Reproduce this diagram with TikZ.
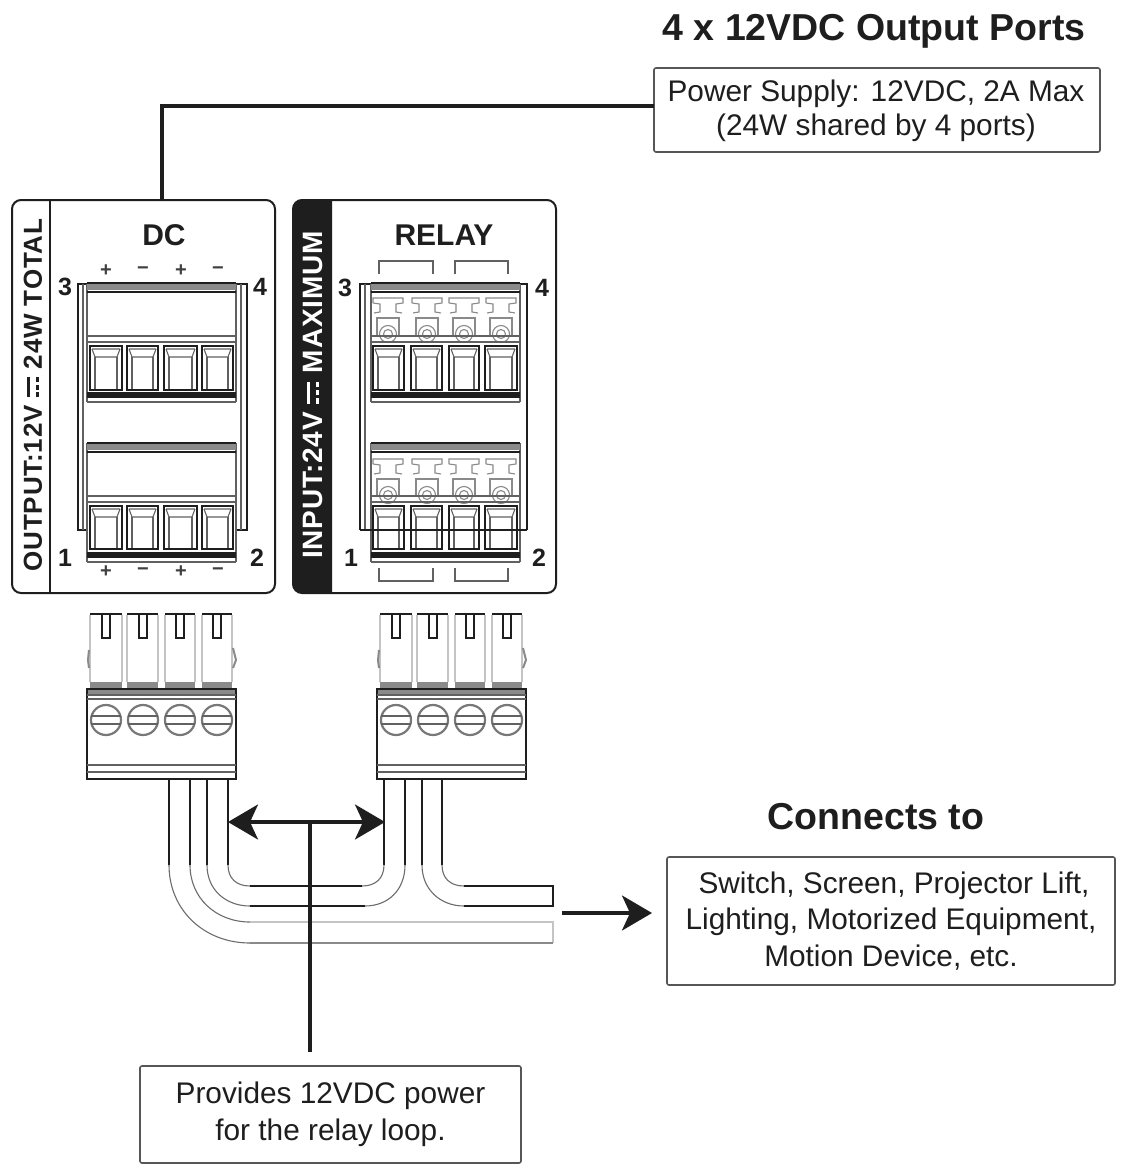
\documentclass[tikz,border=0pt]{standalone}
\usepackage{fontspec}
\setmainfont{Liberation Sans}
\usetikzlibrary{arrows.meta,calc}
\definecolor{ink}{HTML}{1E1E1E}
\definecolor{soft}{HTML}{8A8A8A}
\definecolor{pale}{HTML}{C4C4C4}
\tikzset{
  textbox/.style={draw=ink!75,line width=1.6pt,rounded corners=2pt,align=center,font=\fontsize{29.8}{36.5}\selectfont,inner sep=0pt,text=ink},
  heading/.style={font=\bfseries\fontsize{37.5}{42}\selectfont,text=ink,inner sep=0pt},
  panel/.style={draw=ink,line width=2pt,rounded corners=9pt},
  dk/.style={draw=ink,line width=1.7pt},
  md/.style={draw=ink!70,line width=1.1pt},
  lt/.style={draw=soft,line width=1.1pt},
  wire/.style={draw=ink,line width=1.7pt},
  wirecurve/.style={draw=ink!65,line width=1.1pt},
  wirepale/.style={draw=pale,line width=1.6pt},
  lead/.style={draw=ink,line width=3.4pt},
  bighead/.style={-{Stealth[length=30pt,width=35pt,inset=8pt]}},
  bothheads/.style={{Stealth[length=30pt,width=35pt,inset=8pt]}-{Stealth[length=30pt,width=35pt,inset=8pt]}},
  portnum/.style={font=\bfseries\fontsize{25}{28}\selectfont,text=ink,inner sep=0pt},
  paneltitle/.style={font=\bfseries\fontsize{30}{34}\selectfont,text=ink,inner sep=0pt},
  polarity/.style={font=\bfseries\fontsize{20}{24}\selectfont,text=ink!85,inner sep=0pt},
}
% direct-current sign: solid bar over a broken bar
\newcommand{\dcsign}{\mbox{\rlap{\rule[.45em]{.78em}{.11em}}\rule[.13em]{.2em}{.11em}\hspace{.09em}\rule[.13em]{.2em}{.11em}\hspace{.09em}\rule[.13em]{.2em}{.11em}}}
% one key cell: left, right, top, bottom
\newcommand{\keycell}[4]{%
  \draw[dk] (#1,#3) rectangle (#2,#4);
  \draw[md] (#1+2,#3+3) -- (#2-2,#3+3) (#1+2,#3+3) -- (#1+5,#3+11) -- (#2-5,#3+11) -- (#2-2,#3+3);
  \draw[md] (#1+5,#3+11) -- (#1+5,#4-1) (#2-5,#3+11) -- (#2-5,#4-1);
}
% one row of a terminal block: left, right, top of the band
\newcommand{\blockrow}[3]{%
  \draw[md] (#1,#3) -- (#2,#3) (#1,#3+6) -- (#2,#3+6);
  \fill[ink] (#1,#3+56) rectangle (#2,#3+62);
  \draw[md] (#1,#3+66) -- (#2,#3+66);
}
\newcommand{\topbars}[3]{%
  \draw[dk] (#1,#3) -- (#2,#3);
  \fill[soft] (#1,#3+1) rectangle (#2,#3+7);
  \draw[dk] (#1,#3+9) -- (#2,#3+9);
}
% gray latch of the relay block: centre x, top y
\newcommand{\latch}[2]{%
  \draw[lt] (#1-15,#2+5) -- (#1-15,#2) -- (#1+15,#2) -- (#1+15,#2+5) -- (#1+8,#2+6) -- (#1+8,#2+14) -- (#1+14,#2+15)
            (#1-15,#2+5) -- (#1-8,#2+6) -- (#1-8,#2+14) -- (#1-14,#2+15);
  \draw[lt] (#1-11,#2+37) -- (#1-11,#2+20) -- (#1+11,#2+20) -- (#1+11,#2+37);
  \draw[lt] (#1,#2+36) circle (8.5pt) (#1,#2+36) circle (4.5pt);
}
% plug: x shift
\newcommand{\plugshape}[1]{%
  \begin{scope}[xshift=#1pt]
    \foreach \a/\b/\c in {90/122/106,127/158/143,165/195/180,202/232/217}{
      \draw[draw=pale,line width=1.5pt] (\a,615) -- (\a,682) (\b,615) -- (\b,682);
      \draw[draw=ink,line width=2pt] (\a,614) -- (\b,614);
      \draw[draw=ink,line width=2pt] (\c-4,614) -- (\c-4,638) -- (\c+4,638) -- (\c+4,614);
      \fill[soft] (\a,682) rectangle (\b,688);
    }
    \draw[lt,line width=2pt] (89,650) -- (88,660) -- (89,668);
    \draw[lt,line width=2pt] (233,648) -- (236,660) -- (233,668);
    \fill[soft] (87,689) rectangle (236,695);
    \draw[dk] (87,689) rectangle (236,779);
    \draw[md] (87,695) -- (236,695);
    \draw[md] (87,699) -- (236,699);
    \draw[md] (87,765) -- (236,765);
    \draw[md] (87,772) -- (236,772);
    \foreach \c in {106,143,180,217}{
      \draw[draw=ink!60,line width=2.2pt] (\c,720) circle (15pt);
      \draw[md] (\c-15,716) -- (\c+15,716) (\c-15,724) -- (\c+15,724);
    }
  \end{scope}
}
\begin{document}
\begin{tikzpicture}[x=1pt,y=-1pt]
\useasboundingbox (0,0) rectangle (1124,1170);
\fill[white] (0,0) rectangle (1124,1170);

% headings and text boxes
\node[heading] (title) at (874,31) {4 x 12VDC Output Ports};
\node[textbox,minimum width=446pt,minimum height=84pt] (supply) at (877,110) {};
\node[inner sep=0pt,align=center,text=ink,font=\fontsize{29.8}{34}\selectfont] (supplytext) at (876,111) {Power Supply: 12VDC, 2A Max\\(24W shared by 4 ports)};
\node[heading] (conn) at (876,817) {Connects to};
\node[textbox,minimum width=448pt,minimum height=128pt] (dest) at (891,921) {\hspace*{6pt}Switch, Screen, Projector Lift,\\Lighting, Motorized Equipment,\\Motion Device, etc.};
\node[textbox,minimum width=381pt,minimum height=97pt] (loop) at (330.5,1114.5) {Provides 12VDC power\\for the relay loop.};

% DC panel
\draw[panel] (12,200) rectangle (275,593);
\coordinate (dctop) at (162,200);
\draw[draw=ink,line width=2.6pt] (50,200) -- (50,593);
\node[inner sep=0pt,rotate=90,text=ink,font=\bfseries\fontsize{26}{28}\selectfont] (dcside) at (33,395) {\addfontfeature{LetterSpace=3}OUTPUT:12V \dcsign{} 24W TOTAL};
\node[paneltitle] (dctitle) at (164,235) {DC};
\foreach \c/\s in {106/+,143/−,181/+,218/−}{
  \node[polarity] at (\c,271) {\s};
  \node[polarity] at (\c,572) {\s};
}
\node[portnum] (d3) at (65,287) {3};
\node[portnum] (d4) at (260,287) {4};
\node[portnum] (d1) at (65,558) {1};
\node[portnum] (d2) at (257,558) {2};
\draw[dk] (87,284) -- (78,284) -- (78,530) -- (87,530);
\draw[md] (83,284) -- (83,530);
\draw[dk] (236,284) -- (247,284) -- (247,530) -- (236,530);
\draw[md] (241,284) -- (241,530);
\draw[md] (87,284) -- (87,402) (236,284) -- (236,402) (87,443) -- (87,562) (236,443) -- (236,562);
\topbars{87}{236}{283}
\blockrow{87}{236}{336}
\topbars{87}{236}{443}
\blockrow{87}{236}{496}
\draw[md] (87,402) -- (236,402) (87,562) -- (236,562);
\foreach \a/\b in {90/122,127/158,164/197,202/233}{
  \keycell{\a}{\b}{346}{390}
  \keycell{\a}{\b}{506}{549}
}

% RELAY panel
\draw[panel] (293,200) rectangle (556,593);
\fill[ink] (303,200) arc[start angle=90,end angle=180,radius=10pt] -- (293,583) arc[start angle=180,end angle=270,radius=10pt] -- (332,593) -- (332,200) -- cycle;
\node[inner sep=0pt,rotate=90,text=white,font=\bfseries\fontsize{28}{30}\selectfont] (rlside) at (313,395) {\addfontfeature{LetterSpace=3}INPUT:24V \dcsign{} MAXIMUM};
\node[paneltitle] (rltitle) at (444,235) {RELAY};
\foreach \a/\b in {379/433,455/508}{
  \draw[md] (\a,274) -- (\a,261) -- (\b,261) -- (\b,274);
  \draw[md] (\a,568) -- (\a,581) -- (\b,581) -- (\b,568);
}
\node[portnum] (r3) at (345,288) {3};
\node[portnum] (r4) at (542,288) {4};
\node[portnum] (r1) at (351,558) {1};
\node[portnum] (r2) at (539,558) {2};
\draw[dk] (371,284) -- (360,284) -- (360,530);
\draw[md] (365,284) -- (365,530);
\draw[dk] (520,284) -- (527,284) -- (527,530);
\draw[md] (371,284) -- (371,402) (520,284) -- (520,402) (371,443) -- (371,562) (520,443) -- (520,562);
\foreach \c in {388,427,464,501}{
  \latch{\c}{298}
  \latch{\c}{459}
}
\topbars{371}{520}{283}
\blockrow{371}{520}{336}
\topbars{371}{520}{443}
\blockrow{371}{520}{496}
\draw[md] (371,402) -- (520,402) (371,562) -- (520,562);
\foreach \a/\b in {373/404,411/442,449/479,485/517}{
  \keycell{\a}{\b}{346}{390}
  \keycell{\a}{\b}{506}{549}
}
\draw[dk] (360,530) -- (527,530);

% plugs
\plugshape{0}
\plugshape{290}

% wires: straight parts dark, curves lighter
\foreach \x in {169,190,207,228,384,405,422,442}{
  \draw[wire] (\x,779) -- (\x,865);
}
\draw[wirecurve] (228,865) .. controls (228,878) and (236,886) .. (250,886);
\draw[wire] (250,886) -- (362,886);
\draw[wirecurve] (362,886) .. controls (376,886) and (384,878) .. (384,865);
\draw[wirecurve] (207,865) .. controls (207,890) and (226,906) .. (250,906);
\draw[wire] (250,906) -- (365,906);
\draw[wirecurve] (365,906) .. controls (388,906) and (405,890) .. (405,865);
\draw[wirecurve] (442,865) .. controls (442,878) and (450,886) .. (464,886);
\draw[wirecurve] (422,865) .. controls (422,890) and (441,906) .. (464,906);
\draw[wire] (464,886) -- (553,886) -- (553,906) -- (464,906);
\draw[wirecurve] (190,865) .. controls (190,898) and (216,922) .. (250,922);
\draw[wirecurve] (169,865) .. controls (169,910) and (204,943) .. (250,943);
\draw[wirepale] (250,922) -- (553,922) -- (553,943);
\draw[wirepale,draw=soft] (250,943) -- (553,943);

% connectors
\coordinate (supplyleft) at (654,106);
\draw[lead] (supplyleft) -- (dctop |- supplyleft) -- (dctop);
\coordinate (bridgeL) at (228,822);
\coordinate (bridgeR) at (385,822);
\coordinate (bridgeM) at (310,822);
\coordinate (loopup) at (310,1052);
\draw[lead,bothheads] (bridgeL) -- (bridgeR);
\draw[lead] (bridgeM) -- (loopup);
\coordinate (outstart) at (562,913);
\coordinate (outend) at (652,913);
\draw[lead,bighead] (outstart) -- (outend);
\end{tikzpicture}
\end{document}
